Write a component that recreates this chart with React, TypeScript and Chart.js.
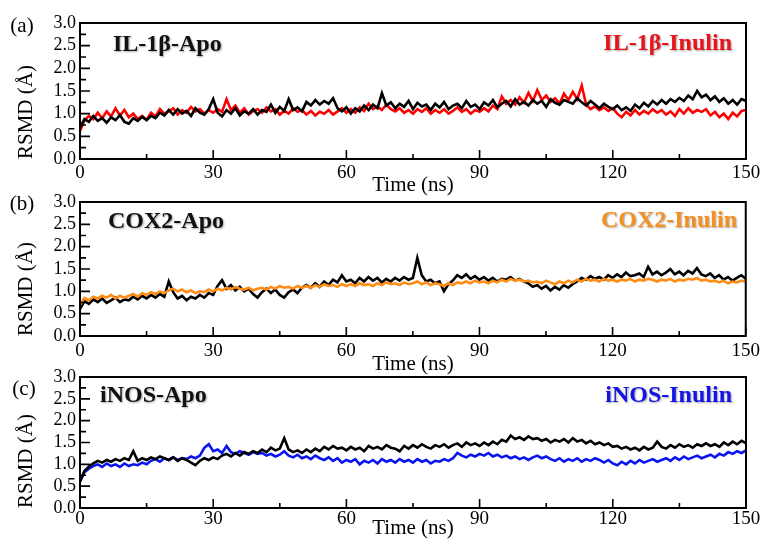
import React, { useEffect, useRef } from "react";
import { Chart, registerables } from "chart.js";

Chart.register(...registerables);

// Time axis (ns), one sample per ns
const TIME_NS: number[] = Array.from({ length: 151 }, (_, i) => i);

const X_TICK_STEP = 30;
const Y_TICK_STEP = 0.5;

// Panel (a) IL-1β
const IL1B_APO = [
  0.70, 0.88, 0.82, 0.95, 0.84, 0.90, 0.80, 0.92, 0.86, 0.97, 0.82,
  0.78, 0.90, 0.84, 0.93, 0.86, 0.95, 0.90, 1.02, 0.96, 1.08,
  0.98, 1.10, 1.00, 1.06, 0.95, 1.12, 1.02, 0.98, 1.10, 1.32,
  1.02, 0.94, 1.08, 1.00, 1.12, 0.96, 1.05, 1.00, 1.10, 0.98,
  1.08, 1.04, 1.20, 1.02, 1.15, 1.06, 1.32, 1.08, 1.14, 1.05,
  1.26, 1.18, 1.30, 1.20, 1.28, 1.22, 1.34, 1.12, 1.05, 1.14,
  1.00, 1.12, 1.05, 1.18, 1.08, 1.20, 1.12, 1.45, 1.18, 1.25,
  1.12, 1.22, 1.15, 1.28, 1.10, 1.24, 1.16, 1.20, 1.08, 1.22,
  1.14, 1.26, 1.10, 1.18, 1.22, 1.12, 1.28, 1.15, 1.20, 1.10,
  1.25, 1.18, 1.30, 1.14, 1.22, 1.28, 1.16, 1.32, 1.20, 1.26,
  1.18, 1.30, 1.22, 1.28, 1.15, 1.32, 1.24, 1.20, 1.30, 1.26,
  1.22, 1.34, 1.25, 1.18, 1.28, 1.20, 1.12, 1.22, 1.15, 1.10,
  1.18, 1.08, 1.14, 1.06, 1.20, 1.12, 1.24, 1.16, 1.28, 1.20,
  1.30, 1.22, 1.32, 1.26, 1.35, 1.28, 1.40, 1.32, 1.50, 1.36,
  1.42, 1.30, 1.38, 1.26, 1.34, 1.22, 1.30, 1.20, 1.32, 1.28,
];
const IL1B_INULIN = [
  0.62, 0.85, 0.95, 0.88, 1.02, 0.90, 1.05, 0.94, 1.12, 0.96, 1.08,
  0.92, 1.00, 0.88, 0.95, 0.86, 1.02, 0.94, 1.10, 1.00, 1.05,
  1.12, 0.98, 1.08, 1.02, 1.15, 1.05, 1.10, 1.00, 1.08, 1.02,
  1.10, 1.04, 1.32, 1.08, 1.18, 1.02, 1.12, 0.98, 1.06, 1.10,
  1.02, 1.14, 1.05, 1.10, 0.98, 1.06, 1.00, 1.12, 1.04, 1.08,
  0.98, 1.06, 0.96, 1.04, 1.00, 1.08, 0.98, 1.05, 1.12, 1.02,
  1.10, 1.02, 1.14, 1.06, 1.22, 1.10, 1.16, 1.08, 1.20, 1.10,
  1.05, 1.12, 1.02, 1.08, 1.00, 1.10, 1.04, 1.12, 1.00, 1.08,
  1.02, 1.10, 1.00, 1.06, 1.14, 1.04, 1.10, 1.00, 1.08, 1.04,
  1.12, 1.05, 1.18, 1.10, 1.38, 1.22, 1.30, 1.20, 1.36, 1.24,
  1.46, 1.28, 1.52, 1.30, 1.40, 1.26, 1.34, 1.22, 1.44, 1.30,
  1.48, 1.32, 1.62, 1.20, 1.10, 1.16, 1.08, 1.14, 1.06, 1.12,
  1.00, 0.92, 1.04, 0.96, 1.08, 0.98, 1.06, 1.00, 1.10, 1.02,
  1.08, 0.98, 1.05, 0.95, 1.10, 1.00, 1.12, 1.02, 1.08, 1.04,
  1.10, 0.96, 1.04, 0.92, 1.00, 0.88, 1.02, 0.94, 1.06, 1.08,
];

// Panel (b) COX2
const COX2_APO = [
  0.60, 0.78, 0.72, 0.82, 0.76, 0.84, 0.74, 0.80, 0.86, 0.76, 0.82,
  0.80, 0.88, 0.82, 0.90, 0.84, 0.92, 0.86, 0.94, 0.88, 1.22,
  0.98, 0.84, 0.90, 0.80, 0.88, 0.84, 0.92, 0.86, 0.96, 0.92,
  1.12, 1.25, 1.06, 1.14, 1.02, 1.10, 1.00, 1.06, 0.94, 0.86,
  0.98, 1.06, 0.96, 1.04, 0.92, 0.86, 0.98, 1.04, 0.96, 1.08,
  1.14, 1.08, 1.18, 1.10, 1.22, 1.14, 1.26, 1.20, 1.36, 1.22,
  1.26, 1.18, 1.30, 1.22, 1.32, 1.24, 1.30, 1.20, 1.28, 1.22,
  1.30, 1.24, 1.32, 1.26, 1.30, 1.75, 1.36, 1.22, 1.26, 1.18,
  1.22, 1.00, 1.16, 1.24, 1.36, 1.30, 1.38, 1.28, 1.34, 1.26,
  1.32, 1.24, 1.30, 1.22, 1.28, 1.26, 1.32, 1.24, 1.28, 1.22,
  1.18, 1.10, 1.14, 1.06, 1.12, 1.02, 1.10, 1.04, 1.14, 1.08,
  1.16, 1.22, 1.30, 1.26, 1.34, 1.28, 1.32, 1.26, 1.36, 1.30,
  1.38, 1.32, 1.42, 1.34, 1.36, 1.40, 1.32, 1.55, 1.38, 1.44,
  1.36, 1.42, 1.50, 1.38, 1.44, 1.36, 1.46, 1.40, 1.52, 1.38,
  1.34, 1.40, 1.30, 1.36, 1.26, 1.32, 1.24, 1.30, 1.36, 1.28,
];
const COX2_INULIN = [
  0.70, 0.85, 0.80, 0.88, 0.84, 0.90, 0.86, 0.92, 0.84, 0.90, 0.86,
  0.90, 0.94, 0.88, 0.96, 0.92, 0.98, 0.94, 1.00, 0.96, 1.02,
  1.06, 1.00, 1.04, 0.98, 1.02, 0.96, 1.00, 0.98, 1.04, 1.00,
  1.06, 1.02, 1.08, 1.04, 1.10, 1.06, 1.04, 1.08, 1.02, 1.06,
  1.08, 1.04, 1.10, 1.06, 1.12, 1.08, 1.10, 1.06, 1.12, 1.08,
  1.12, 1.08, 1.14, 1.10, 1.16, 1.12, 1.14, 1.10, 1.16, 1.12,
  1.16, 1.12, 1.18, 1.14, 1.16, 1.12, 1.18, 1.14, 1.20, 1.16,
  1.18, 1.14, 1.20, 1.16, 1.18, 1.22, 1.16, 1.20, 1.14, 1.18,
  1.16, 1.12, 1.18, 1.14, 1.20, 1.18, 1.22, 1.18, 1.24, 1.20,
  1.22, 1.18, 1.24, 1.20, 1.26, 1.22, 1.28, 1.24, 1.26, 1.22,
  1.24, 1.20, 1.22, 1.18, 1.24, 1.20, 1.16, 1.22, 1.18, 1.24,
  1.20, 1.26, 1.22, 1.28, 1.24, 1.26, 1.22, 1.28, 1.24, 1.26,
  1.22, 1.26, 1.24, 1.28, 1.22, 1.26, 1.24, 1.28, 1.26, 1.22,
  1.26, 1.24, 1.28, 1.22, 1.26, 1.24, 1.28, 1.26, 1.30, 1.24,
  1.26, 1.22, 1.24, 1.20, 1.24, 1.18, 1.22, 1.20, 1.24, 1.22,
];

// Panel (c) iNOS
const INOS_APO = [
  0.62, 0.85, 0.95, 1.02, 1.08, 1.04, 1.10, 1.06, 1.12, 1.08, 1.14,
  1.10, 1.30, 1.08, 1.14, 1.10, 1.16, 1.12, 1.18, 1.14, 1.10,
  1.16, 1.08, 1.14, 1.10, 1.04, 0.98, 1.08, 1.14, 1.10, 1.16,
  1.12, 1.20, 1.24, 1.18, 1.26, 1.20, 1.28, 1.24, 1.30, 1.26,
  1.34, 1.28, 1.38, 1.32, 1.36, 1.60, 1.34, 1.28, 1.32, 1.26,
  1.34, 1.28, 1.36, 1.30, 1.40, 1.34, 1.42, 1.36, 1.38, 1.32,
  1.40, 1.34, 1.38, 1.30, 1.42, 1.36, 1.40, 1.34, 1.44, 1.38,
  1.36, 1.30, 1.42, 1.36, 1.44, 1.38, 1.46, 1.40, 1.36, 1.44,
  1.40, 1.46, 1.38, 1.44, 1.48, 1.40, 1.50, 1.44, 1.48, 1.42,
  1.50, 1.44, 1.52, 1.46, 1.56, 1.52, 1.66, 1.58, 1.62, 1.56,
  1.64, 1.58, 1.60, 1.54, 1.58, 1.50, 1.56, 1.52, 1.58, 1.50,
  1.60, 1.52, 1.56, 1.48, 1.54, 1.46, 1.50, 1.44, 1.48, 1.40,
  1.42, 1.36, 1.40, 1.34, 1.38, 1.32, 1.40, 1.34, 1.38, 1.52,
  1.40, 1.36, 1.44, 1.38, 1.46, 1.40, 1.44, 1.38, 1.46, 1.42,
  1.48, 1.42, 1.46, 1.40, 1.50, 1.44, 1.52, 1.46, 1.54, 1.48,
];
const INOS_INULIN = [
  0.60, 0.82, 0.90, 0.96, 1.00, 0.94, 1.02, 0.96, 1.00, 0.94, 1.02,
  0.96, 1.00, 0.98, 1.04, 1.00, 1.08, 1.12, 1.06, 1.14, 1.10,
  1.16, 1.10, 1.14, 1.12, 1.18, 1.14, 1.20, 1.38, 1.46, 1.30,
  1.34, 1.26, 1.42, 1.28, 1.24, 1.30, 1.26, 1.22, 1.28, 1.24,
  1.26, 1.20, 1.24, 1.18, 1.22, 1.30, 1.20, 1.16, 1.22, 1.14,
  1.18, 1.12, 1.20, 1.14, 1.10, 1.16, 1.08, 1.14, 1.04, 1.10,
  1.06, 1.12, 1.00, 1.08, 1.04, 1.10, 1.02, 1.12, 1.06, 1.10,
  1.04, 1.12, 1.06, 1.10, 1.04, 1.12, 1.06, 1.10, 1.02, 1.08,
  1.06, 1.12, 1.08, 1.14, 1.26, 1.20, 1.16, 1.22, 1.18, 1.24,
  1.20, 1.26, 1.18, 1.22, 1.16, 1.20, 1.14, 1.18, 1.12, 1.16,
  1.10, 1.16, 1.20, 1.14, 1.18, 1.12, 1.08, 1.14, 1.06, 1.12,
  1.08, 1.14, 1.06, 1.12, 1.08, 1.14, 1.10, 1.04, 1.10, 1.02,
  0.98, 1.06, 1.00, 1.08, 1.02, 1.10, 1.04, 1.08, 1.12, 1.06,
  1.10, 1.14, 1.08, 1.16, 1.10, 1.18, 1.12, 1.16, 1.20, 1.14,
  1.18, 1.22, 1.16, 1.24, 1.20, 1.28, 1.24, 1.30, 1.26, 1.32,
];

const SERIF = '"Liberation Serif", "Times New Roman", Times, serif';

type TextItem = { text: string; x: number; y: number; color: string; align: CanvasTextAlign; font: string; shadow?: boolean };

const panelDecor = {
  id: "panelDecor",
  afterDatasetsDraw(chart: any, _args: any, opts: any) {
    const { ctx, chartArea: ca, scales } = chart;
    const xs = scales.x;
    const ys = scales.y;
    ctx.save();
    ctx.strokeStyle = "#000";
    ctx.lineWidth = 2;
    ctx.strokeRect(ca.left, ca.top, ca.right - ca.left, ca.bottom - ca.top);
    ctx.lineWidth = 1.6;
    ctx.beginPath();
    const xt = xs.ticks.map((t: any) => t.value);
    for (let i = 0; i < xt.length; i++) {
      const px = xs.getPixelForValue(xt[i]);
      ctx.moveTo(px, ca.bottom);
      ctx.lineTo(px, ca.bottom - 9);
      if (i < xt.length - 1) {
        const mx = xs.getPixelForValue((xt[i] + xt[i + 1]) / 2);
        ctx.moveTo(mx, ca.bottom);
        ctx.lineTo(mx, ca.bottom - 5);
      }
    }
    const yt = ys.ticks.map((t: any) => t.value);
    for (let i = 0; i < yt.length; i++) {
      const py = ys.getPixelForValue(yt[i]);
      ctx.moveTo(ca.left, py);
      ctx.lineTo(ca.left + 10, py);
      if (i < yt.length - 1) {
        const my = ys.getPixelForValue((yt[i] + yt[i + 1]) / 2);
        ctx.moveTo(ca.left, my);
        ctx.lineTo(ca.left + 6, my);
      }
    }
    ctx.stroke();
    ctx.textBaseline = "middle";
    for (const t of opts.texts as TextItem[]) {
      ctx.save();
      ctx.font = t.font;
      ctx.fillStyle = t.color;
      ctx.textAlign = t.align;
      if (t.shadow) {
        ctx.shadowColor = "rgba(0,0,0,0.35)";
        ctx.shadowBlur = 2;
        ctx.shadowOffsetX = 1;
        ctx.shadowOffsetY = 1;
      }
      ctx.fillText(t.text, t.x, t.y);
      ctx.restore();
    }
    ctx.restore();
  },
};

type PanelProps = {
  top: number;
  height: number;
  padTop: number;
  padBottom: number;
  xAxisHeight: number;
  tickPad: number;
  series: { label: string; data: number[]; color: string }[];
  texts: TextItem[];
};

function Panel(p: PanelProps) {
  const ref = useRef<HTMLCanvasElement | null>(null);
  useEffect(() => {
    if (!ref.current) return;
    const chart = new Chart(ref.current, {
      type: "line",
      data: {
        datasets: p.series.map((s) => ({
          label: s.label,
          data: TIME_NS.map((t, i) => ({ x: t, y: s.data[i] })),
          borderColor: s.color,
          backgroundColor: s.color,
          borderWidth: 2.6,
          pointRadius: 0,
          tension: 0,
          fill: false,
        })),
      },
      options: {
        responsive: false,
        animation: false,
        devicePixelRatio: 1,
        layout: {
          autoPadding: false,
          padding: { top: p.padTop, bottom: p.padBottom, left: 0, right: 18 },
        },
        plugins: {
          legend: { display: false },
          tooltip: { enabled: false },
          panelDecor: { texts: p.texts },
        } as any,
        scales: {
          x: {
            type: "linear",
            min: 0,
            max: 150,
            grid: { display: false, drawTicks: false },
            border: { display: false },
            ticks: {
              stepSize: X_TICK_STEP,
              autoSkip: false,
              padding: p.tickPad,
              color: "#000",
              font: { family: SERIF, size: 19 },
              maxRotation: 0,
            },
            title: {
              display: true,
              text: "Time (ns)",
              color: "#000",
              font: { family: SERIF, size: 21 },
              padding: 0,
            },
            afterFit: (scale: any) => {
              scale.height = p.xAxisHeight;
            },
          },
          y: {
            type: "linear",
            min: 0,
            max: 3,
            grid: { display: false, drawTicks: false },
            border: { display: false },
            ticks: {
              stepSize: Y_TICK_STEP,
              autoSkip: false,
              padding: 4,
              color: "#000",
              font: { family: SERIF, size: 18 },
              callback: (v: any) => Number(v).toFixed(1),
            },
            title: {
              display: true,
              text: "RSMD (Å)",
              align: "start",
              color: "#000",
              font: { family: SERIF, size: 21 },
              padding: { top: 14, bottom: 0 },
            },
            afterFit: (scale: any) => {
              scale.width = 80;
            },
          },
        },
      } as any,
      plugins: [panelDecor],
    });
    return () => chart.destroy();
  }, []);
  return (
    <canvas
      ref={ref}
      width={764}
      height={p.height}
      style={{ position: "absolute", left: 0, top: p.top, display: "block" }}
    />
  );
}

const BOLD = `bold 24px ${SERIF}`;
const LETTER = `21px ${SERIF}`;

export default function App() {
  return (
    <div style={{ position: "absolute", left: 0, top: 0, width: 764, height: 542, background: "#fff", overflow: "hidden" }}>
      <Panel
        top={0}
        height={200}
        padTop={23}
        padBottom={2.4}
        xAxisHeight={38.6}
        tickPad={3}
        series={[
          { label: "IL-1β-Apo", data: IL1B_APO, color: "#000000" },
          { label: "IL-1β-Inulin", data: IL1B_INULIN, color: "#ff0000" },
        ]}
        texts={[
          { text: "(a)", x: 22, y: 26, color: "#000", align: "center", font: LETTER },
          { text: "IL-1β-Apo", x: 113, y: 45, color: "#111", align: "left", font: BOLD, shadow: true },
          { text: "IL-1β-Inulin", x: 732, y: 44, color: "#e8141c", align: "right", font: BOLD, shadow: true },
        ]}
      />
      <Panel
        top={180}
        height={200}
        padTop={22}
        padBottom={3.4}
        xAxisHeight={40.6}
        tickPad={4}
        series={[
          { label: "COX2-Inulin", data: COX2_INULIN, color: "#ff8c14" },
          { label: "COX2-Apo", data: COX2_APO, color: "#000000" },
        ]}
        texts={[
          { text: "(b)", x: 22, y: 24, color: "#000", align: "center", font: LETTER },
          { text: "COX2-Apo", x: 108, y: 42, color: "#111", align: "left", font: BOLD, shadow: true },
          { text: "COX2-Inulin", x: 737, y: 41, color: "#f5901e", align: "right", font: BOLD, shadow: true },
        ]}
      />
      <Panel
        top={355}
        height={187}
        padTop={22}
        padBottom={1.4}
        xAxisHeight={32.6}
        tickPad={0}
        series={[
          { label: "iNOS-Apo", data: INOS_APO, color: "#000000" },
          { label: "iNOS-Inulin", data: INOS_INULIN, color: "#0a14f0" },
        ]}
        texts={[
          { text: "(c)", x: 24, y: 34, color: "#000", align: "center", font: LETTER },
          { text: "iNOS-Apo", x: 100, y: 41, color: "#111", align: "left", font: BOLD, shadow: true },
          { text: "iNOS-Inulin", x: 732, y: 41, color: "#1414e6", align: "right", font: BOLD, shadow: true },
        ]}
      />
    </div>
  );
}
